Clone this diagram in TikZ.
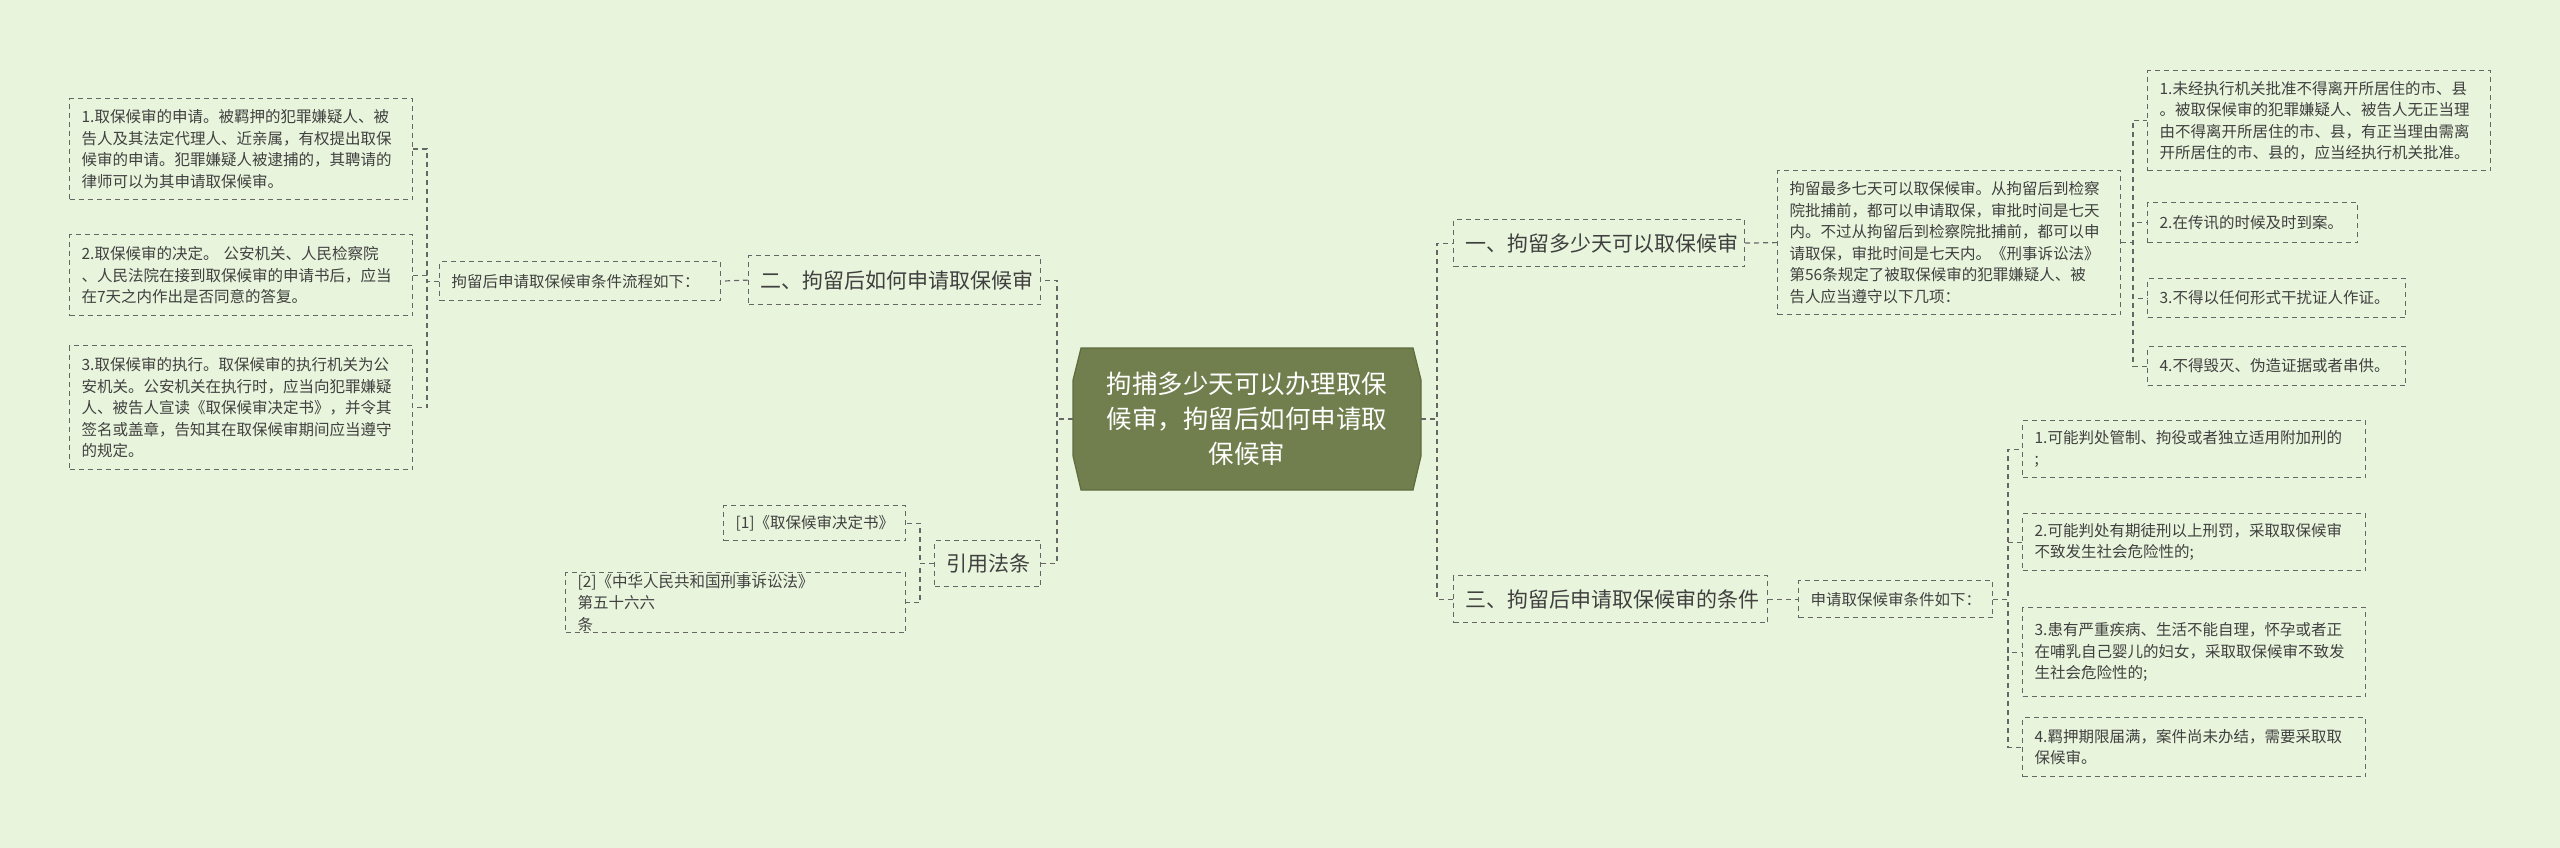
\documentclass[tikz,border=0pt]{standalone}
\usepackage{fontspec}
\setmainfont{Noto Sans CJK SC}
\begin{document}
\begin{tikzpicture}[x=1pt,y=-1pt,
  box/.style={draw=gray!80!black, dashed, dash pattern=on 5pt off 4pt, line width=1.2pt, inner sep=0pt, align=left, anchor=north west, text=black!75},
  small/.style={box, font=\fontsize{15.5}{21.5}\selectfont},
  big/.style={box, font=\fontsize{21}{26}\selectfont, align=center},
  conn/.style={draw=gray!80!black, dashed, dash pattern=on 5pt off 4pt, line width=1.2pt}]
\fill[fill={rgb,255:red,232;green,245;blue,220}] (0,0) rectangle (2560,848);
\useasboundingbox (0,0) rectangle (2560,848);
% helper: node placed by top-left with size
\newcommand{\bx}[7]{\node[#1, minimum width=#4, minimum height=#5, text width=#4-24] (#2) at (#6,#7) {#3};}
% center
\node[minimum width=348, minimum height=142, inner sep=0pt] (c) at (1247,419) {};
\fill[fill={rgb,255:red,113;green,127;blue,78}, draw={rgb,255:red,95;green,108;blue,62}, line width=1.2pt]
 (1081,348) -- (1413,348) -- (1421,380) -- (1421,456) -- (1413,490) -- (1081,490) -- (1073,456) -- (1073,380) -- cycle;
\node[text=white, font=\fontsize{25.5}{35}\selectfont, align=center] at (c) {拘捕多少天可以办理取保\\候审，拘留后如何申请取\\保候审};
% level 1
\bx{big}{r1}{一、拘留多少天可以取保候审}{291}{47}{1453}{219}
\bx{big}{r3}{三、拘留后申请取保候审的条件}{314}{47}{1453}{575}
\bx{big}{l2}{二、拘留后如何申请取保候审}{292}{49}{748}{255}
\bx{big}{l3}{引用法条}{106}{46}{934}{540}
% right branch 1
\bx{small}{r1a}{拘留最多七天可以取保候审。从拘留后到检察\\院批捕前，都可以申请取保，审批时间是七天\\内。不过从拘留后到检察院批捕前，都可以申\\请取保，审批时间是七天内。《刑事诉讼法》\\第56条规定了被取保候审的犯罪嫌疑人、被\\告人应当遵守以下几项：}{343}{144}{1777}{170}
\bx{small}{p1}{1.未经执行机关批准不得离开所居住的市、县\\。被取保候审的犯罪嫌疑人、被告人无正当理\\由不得离开所居住的市、县，有正当理由需离\\开所居住的市、县的，应当经执行机关批准。}{343}{100}{2147}{70}
\bx{small}{p2}{2.在传讯的时候及时到案。}{210}{40}{2147}{202}
\bx{small}{p3}{3.不得以任何形式干扰证人作证。}{258}{39}{2147}{278}
\bx{small}{p4}{4.不得毁灭、伪造证据或者串供。}{258}{39}{2147}{346}
% right branch 3
\bx{small}{r3a}{申请取保候审条件如下：}{194}{37}{1798}{580}
\bx{small}{q1}{1.可能判处管制、拘役或者独立适用附加刑的\\;}{343}{57}{2022}{420}
\bx{small}{q2}{2.可能判处有期徒刑以上刑罚，采取取保候审\\不致发生社会危险性的;}{343}{57}{2022}{513}
\bx{small}{q3}{3.患有严重疾病、生活不能自理，怀孕或者正\\在哺乳自己婴儿的妇女，采取取保候审不致发\\生社会危险性的;}{343}{89}{2022}{607}
\bx{small}{q4}{4.羁押期限届满，案件尚未办结，需要采取取\\保候审。}{343}{59}{2022}{717}
% left branch 2
\bx{small}{l2a}{拘留后申请取保候审条件流程如下：}{281}{39}{439}{261}
\bx{small}{s1}{1.取保候审的申请。被羁押的犯罪嫌疑人、被\\告人及其法定代理人、近亲属，有权提出取保\\候审的申请。犯罪嫌疑人被逮捕的，其聘请的\\律师可以为其申请取保候审。}{343}{101}{69}{98}
\bx{small}{s2}{2.取保候审的决定。 公安机关、人民检察院\\、人民法院在接到取保候审的申请书后，应当\\在7天之内作出是否同意的答复。}{343}{81}{69}{234}
\bx{small}{s3}{3.取保候审的执行。取保候审的执行机关为公\\安机关。公安机关在执行时，应当向犯罪嫌疑\\人、被告人宣读《取保候审决定书》，并令其\\签名或盖章，告知其在取保候审期间应当遵守\\的规定。}{343}{124}{69}{345}
% left branch 3
\bx{small}{t1}{[1]《取保候审决定书》}{182}{35}{723}{505}
\bx{small}{t2}{[2]《中华人民共和国刑事诉讼法》 第五十六六\\条}{340}{60}{565}{572}
% buses
\coordinate (bR) at (1437,0);
\coordinate (bL) at (1057,0);
\coordinate (bR1) at (2133,0);
\coordinate (bR3) at (2008,0);
\coordinate (bL2) at (427,0);
\coordinate (bL3) at (920,0);
\foreach \n in {r1,r3} \draw[conn] (c.east) -- (c.east -| bR) |- (\n.west);
\foreach \n in {l2,l3} \draw[conn] (c.west) -- (c.west -| bL) |- (\n.east);
\draw[conn] (r1.east) -- (r1a.west);
\foreach \n in {p1,p2,p3,p4} \draw[conn] (r1a.east) -- (r1a.east -| bR1) |- (\n.west);
\draw[conn] (r3.east) -- (r3a.west);
\foreach \n in {q1,q2,q3,q4} \draw[conn] (r3a.east) -- (r3a.east -| bR3) |- (\n.west);
\draw[conn] (l2.west) -- (l2a.east);
\foreach \n in {s1,s2,s3} \draw[conn] (l2a.west) -- (l2a.west -| bL2) |- (\n.east);
\foreach \n in {t1,t2} \draw[conn] (l3.west) -- (l3.west -| bL3) |- (\n.east);
\end{tikzpicture}
\end{document}
